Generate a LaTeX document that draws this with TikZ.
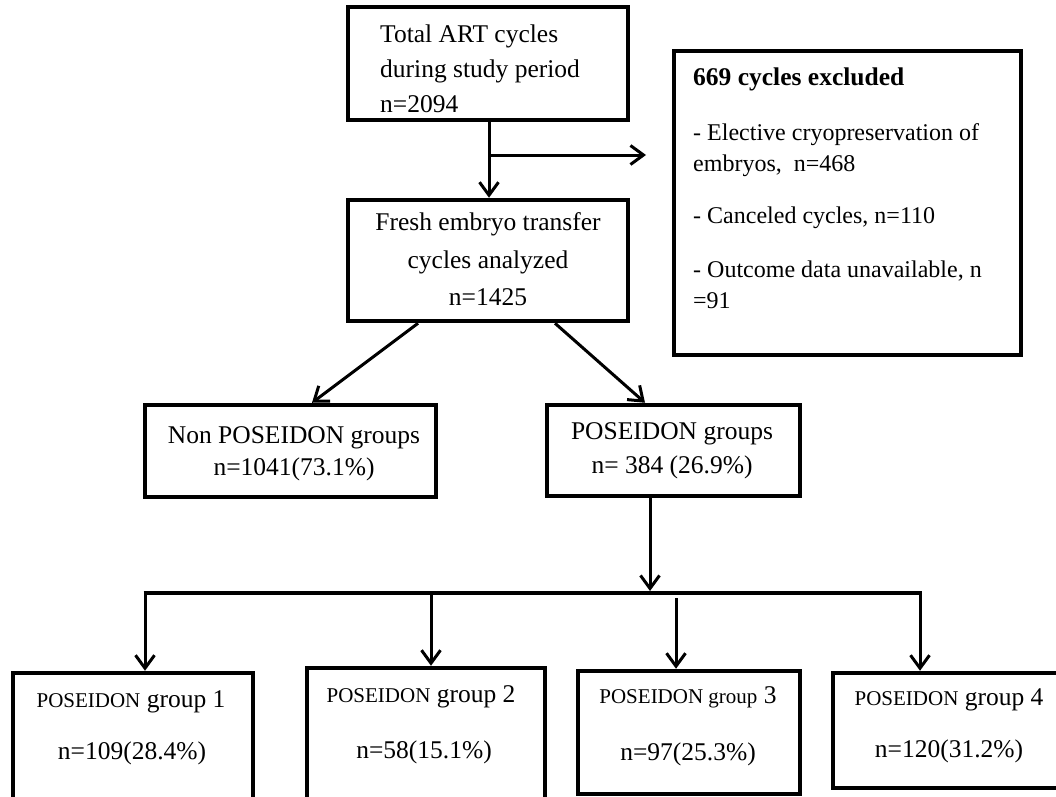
\documentclass[tikz,border=0pt]{standalone}
\usepackage{fontspec}
\setmainfont{Liberation Serif}
\usetikzlibrary{arrows.meta}
\begin{document}
\begin{tikzpicture}[x=1pt,y=-1pt,
  frame/.style={draw, line width=4.5pt, inner sep=0pt},
  txt/.style={inner sep=0pt, font=\fontsize{25.5}{30}\selectfont},
  smtxt/.style={inner sep=0pt, font=\fontsize{24}{29}\selectfont},
  arr/.style={line width=3pt, -{Straight Barb[length=13pt,width=19pt]}},
  hline/.style={line width=4pt},
  ]
\clip (0,0) rectangle (1056,796);
\fill[white] (0,0) rectangle (1056,796);
\newcommand{\ps}{\fontsize{21}{25}\selectfont}

% boxes
\node[frame, minimum width=280pt, minimum height=113pt] (b1) at (488,63.5) {};
\node[frame, minimum width=280pt, minimum height=121pt] (b2) at (488,260.5) {};
\node[frame, minimum width=347pt, minimum height=304pt] (ex) at (847.5,203) {};
\node[frame, minimum width=291pt, minimum height=92pt] (nonp) at (290.5,451) {};
\node[frame, minimum width=253pt, minimum height=91pt] (pos) at (673.5,450.5) {};
\node[frame, minimum width=240pt, minimum height=150pt] (g1) at (133,748) {};
\node[frame, minimum width=238pt, minimum height=150pt] (g2) at (426,743) {};
\node[frame, minimum width=222pt, minimum height=123pt] (g3) at (689,732.5) {};
\node[frame, minimum width=232pt, minimum height=115pt] (g4) at (949,730.5) {};

% texts
\node[txt, anchor=base west] (t1a) at (380,42) {Total ART cycles};
\node[txt, anchor=base west] (t1b) at (380,77) {during study period};
\node[txt, anchor=base west] (t1c) at (380,112) {n=2094};

\node[txt, anchor=base] (t2a) at (488,230) {Fresh embryo transfer};
\node[txt, anchor=base] (t2b) at (488,268) {cycles analyzed};
\node[txt, anchor=base] (t2c) at (488,305) {n=1425};

\node[txt, anchor=base west, font=\fontsize{25.5}{30}\selectfont\bfseries] (exa) at (693,85) {669 cycles excluded};
\node[smtxt, anchor=base west] (exb) at (693,140) {- Elective cryopreservation of};
\node[smtxt, anchor=base west] (exc) at (693,171) {embryos,\ \ n=468};
\node[smtxt, anchor=base west] (exd) at (693,223) {- Canceled cycles, n=110};
\node[smtxt, anchor=base west] (exe) at (693,277) {- Outcome data unavailable, n};
\node[smtxt, anchor=base west] (exf) at (693,308) {=91};

\node[txt, anchor=base] (na) at (294,443) {Non POSEIDON groups};
\node[txt, anchor=base] (nb) at (294,475) {n=1041(73.1\%)};
\node[txt, anchor=base] (pa) at (672,439) {POSEIDON groups};
\node[txt, anchor=base] (pb) at (672,473) {n= 384 (26.9\%)};

\node[txt, anchor=base] (g1a) at (131,707) {{\ps POSEIDON} group 1};
\node[txt, anchor=base] (g1b) at (132,759) {n=109(28.4\%)};
\node[txt, anchor=base] (g2a) at (421,702) {{\ps POSEIDON} group 2};
\node[txt, anchor=base] (g2b) at (424,758) {n=58(15.1\%)};
\node[txt, anchor=base] (g3a) at (688,703) {{\ps POSEIDON group} 3};
\node[txt, anchor=base] (g3b) at (688,760) {n=97(25.3\%)};
\node[txt, anchor=base] (g4a) at (949,705) {{\ps POSEIDON} group 4};
\node[txt, anchor=base] (g4b) at (949,757) {n=120(31.2\%)};

% connectors
\coordinate (br) at (489,155);
\coordinate (brend) at (646,155);
\draw[arr] ([xshift=1pt]b1.south) -- ([xshift=1pt]b2.north);
\draw[arr] (br) -- (brend);
\draw[arr] ([xshift=-70pt]b2.south) -- ([xshift=21.5pt]nonp.north);
\draw[arr] ([xshift=67pt]b2.south) -- ([xshift=-28.5pt]pos.north);

\coordinate (h1) at (145,593);
\coordinate (h2) at (431,593);
\coordinate (h3) at (676,598);
\coordinate (h4) at (920,593);
\coordinate (hp) at (650,591);
\draw[arr] ([xshift=-23.5pt]pos.south) -- (hp);
\draw[hline] ([xshift=-1.5pt]h1) -- ([xshift=1.5pt]h4);
\draw[arr] (h1) -- (h1 |- g1.north);
\draw[arr] (h2) -- (h2 |- g2.north);
\draw[arr] (h3) -- (h3 |- g3.north);
\draw[arr] (h4) -- (h4 |- g4.north);
\end{tikzpicture}
\end{document}
